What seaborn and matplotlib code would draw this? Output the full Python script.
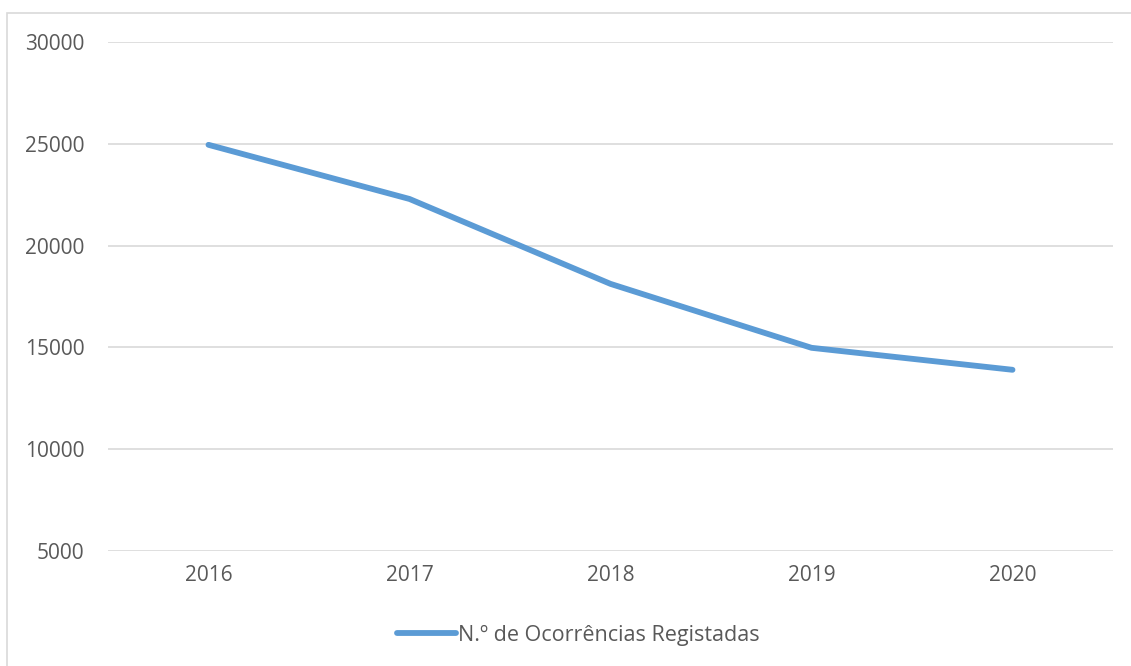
import pandas as pd
import matplotlib.pyplot as plt
import seaborn as sns
from matplotlib.patches import Rectangle

# Dados
anos = ["2016", "2017", "2018", "2019", "2020"]
ocorrencias = [24950, 22290, 18120, 14980, 13900]
yticks = [5000, 10000, 15000, 20000, 25000, 30000]

df = pd.DataFrame({"ano": anos, "ocorrencias": ocorrencias})

sns.set_style("white")
plt.rcParams["font.family"] = ["Open Sans", "DejaVu Sans"]

fig = plt.figure(figsize=(11.31, 6.66), dpi=100)
ax = fig.add_axes([108 / 1131, 1 - 551 / 666, 1005 / 1131, 509 / 666])

sns.lineplot(data=df, x="ano", y="ocorrencias", ax=ax, color="#5B9BD5",
             linewidth=4.2, solid_capstyle="round",
             label="N.º de Ocorrências Registadas")

ax.set_xlim(-0.5, len(anos) - 0.5)
ax.set_ylim(5000, 30000)
ax.set_yticks(yticks)
ax.set_yticklabels([str(v) for v in yticks])
ax.yaxis.grid(True, color="#D9D9D9", linewidth=1.2)
ax.set_axisbelow(True)
for s in ax.spines.values():
    s.set_visible(False)
ax.tick_params(axis="both", length=0, labelsize=15, colors="#595959")
ax.tick_params(axis="y", pad=17)
ax.tick_params(axis="x", pad=10)
ax.set_xlabel("")
ax.set_ylabel("")

leg = ax.legend(loc="center", bbox_to_anchor=(0.468, -0.165), frameon=False,
                fontsize=15.5, handlelength=2.7, handletextpad=0.1)
for t in leg.get_texts():
    t.set_color("#595959")

# moldura do gráfico
fig.patches.append(Rectangle((7 / 1131, -0.1), 1.2, 1 - 13 / 666 + 0.1,
                             transform=fig.transFigure, fill=False,
                             edgecolor="#D9D9D9", linewidth=1.2))

plt.savefig("out.png", dpi=100)
plt.close()
